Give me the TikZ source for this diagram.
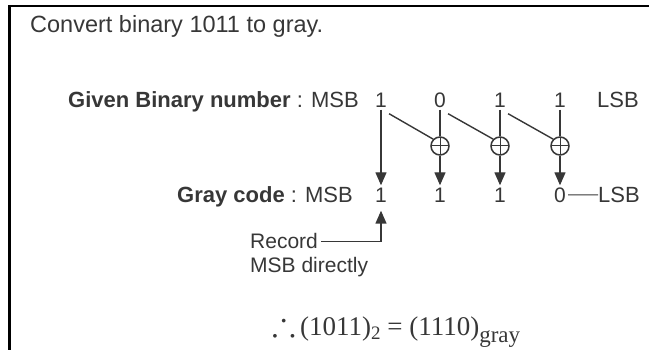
\documentclass[tikz,border=0pt]{standalone}
\usepackage{amssymb}
\usepackage{graphicx}
\usepackage{fontspec}
\setmainfont{Liberation Sans}
\newfontfamily\formfont{Liberation Serif}
\usetikzlibrary{arrows.meta, positioning, calc}
\definecolor{inkgray}{RGB}{55, 55, 55}
\tikzset{
    digit/.style={inner sep=2pt, text height=15pt, text depth=0pt, font=\fontsize{21}{24}\selectfont, text=inkgray},
    rowlabel/.style={anchor=base west, inner sep=0pt, font=\fontsize{22}{26}\selectfont, text=inkgray},
    note/.style={anchor=base west, inner sep=0pt, font=\fontsize{21}{24}\selectfont, text=inkgray},
    xorgate/.style={draw=inkgray, circle, line width=1.5pt, minimum size=18pt, inner sep=0pt,
        path picture={\draw[inkgray, line width=1pt] (path picture bounding box.north) -- (path picture bounding box.south)
            (path picture bounding box.west) -- (path picture bounding box.east);}},
    bitline/.style={draw=inkgray, line width=1.4pt},
    bitarrow/.style={bitline, -{Triangle[length=13pt, width=11pt]}},
}

\begin{document}
\begin{tikzpicture}[x=1pt, y=-1pt]
    \useasboundingbox (0,0) rectangle (649,350);
    % scan edges
    \draw[line width=3.5pt] (9.5,350) -- (9.5,5);
    \draw[line width=2pt] (8,6) -- (649,6);

    % === Title ===
    \node[anchor=base west, inner sep=0pt, font=\fontsize{23.5}{26}\selectfont, text=inkgray] (title) at (30,33) {Convert binary 1011 to gray.};

    % === Given binary row ===
    \node[rowlabel] (given) at (68,107.5) {\textbf{Given Binary number} : MSB};
    \node[digit] (b1) at (381,100) {1};
    \node[digit] (b2) at (440,100) {0};
    \node[digit] (b3) at (500,100) {1};
    \node[digit] (b4) at (560,100) {1};
    \node[rowlabel] (blsb) at (597,107.5) {LSB};

    % XOR gates
    \node[xorgate] (x2) at (440,146) {};
    \node[xorgate] (x3) at (500,146) {};
    \node[xorgate] (x4) at (560,146) {};

    % === Gray code row ===
    \node[rowlabel] (grayl) at (177,202.5) {\textbf{Gray code} : MSB};
    \node[digit] (g1) at (381,195) {1};
    \node[digit] (g2) at (440,195) {1};
    \node[digit] (g3) at (500,195) {1};
    \node[digit] (g4) at (560,195) {0};
    \node[rowlabel] (glsb) at (598,202.5) {LSB};

    % connections
    \draw[bitarrow] (b1) -- (g1);
    \draw[bitline] ([yshift=-4pt]b1.south east) -- (x2.north west);
    \draw[bitline] ([yshift=-4pt]b2.south east) -- (x3.north west);
    \draw[bitline] ([yshift=-4pt]b3.south east) -- (x4.north west);
    \draw[bitline] (b2) -- (x2);
    \draw[bitline] (b3) -- (x3);
    \draw[bitline] (b4) -- (x4);
    \draw[bitarrow] (x2) -- (g2);
    \draw[bitarrow] (x3) -- (g3);
    \draw[bitarrow] (x4) -- (g4);
    \draw[bitline, line width=1pt] (g4) -- (glsb.west);

    % === MSB note ===
    \node[note] (rec) at (250,249) {Record};
    \node[note] (msbd) at (250,273) {MSB directly};
    \draw[bitarrow, shorten >=6pt] ([xshift=3pt]rec.east) -| (g1.south);

    % === Result ===
    \node[anchor=base west, inner sep=0pt, text=inkgray, font=\formfont\fontsize{27}{30}\selectfont] (result) at (272,335)
        {\scalebox{1.3}{$\therefore$}\,(1011)\raisebox{-5pt}{\fontsize{19}{20}\selectfont 2} = (1110)\raisebox{-8pt}{\fontsize{23}{24}\selectfont gray}};
\end{tikzpicture}
\end{document}
